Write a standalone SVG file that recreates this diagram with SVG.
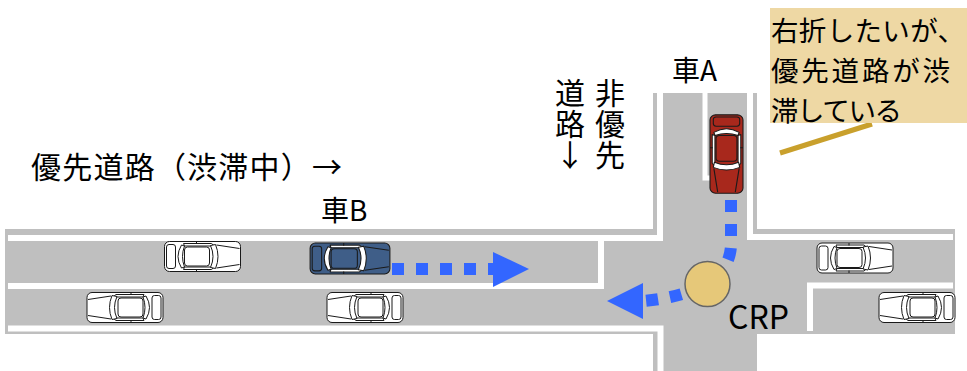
<svg xmlns="http://www.w3.org/2000/svg" xmlns:xlink="http://www.w3.org/1999/xlink" width="967" height="371" viewBox="0 0 967 371">
  <style>
    .road { fill: #bfbfbf; }
    .line { fill: none; stroke: #ffffff; stroke-width: 6; stroke-linejoin: miter; }
    .txt { font-family: "Noto Sans CJK JP", "Noto Sans", sans-serif; fill: #000; }
    .vert { writing-mode: vertical-rl; text-orientation: upright; letter-spacing: 1px; }
    .flow { fill: none; stroke: #3366ff; stroke-width: 12; stroke-dasharray: 12 12; }
    .head { fill: #3366ff; }
  </style>
  <defs>
    <!-- top-view car, facing +x, centred on the origin, 76 x 30 -->
    <g id="car" stroke="#1a1a1a" stroke-width="1" stroke-linejoin="round">
      <rect x="-38" y="-15" width="76" height="30" rx="5"/>
      <rect x="-36" y="-12" width="9" height="24" rx="2.5"/>
      <path fill="#ffffff" d="M-21,-11.5 Q-28,0 -21,11.5 L-18,10.5 Q-22,0 -18,-10.5 Z"/>
      <path fill="#ffffff" d="M-19,-13 L9,-13 L12,-10.5 L-18,-10.5 Z"/>
      <path fill="#ffffff" d="M-19,13 L9,13 L12,10.5 L-18,10.5 Z"/>
      <rect x="-18" y="-9.5" width="25" height="19" rx="3"/>
      <path fill="#ffffff" d="M8,-11 Q13,0 8,11 L13,12 Q18,0 13,-12 Z"/>
      <path fill="none" d="M14,-11.5 L37,-8 M14,11.5 L37,8 M-6,-15 L-6,-12.5 M-6,15 L-6,12.5"/>
    </g>
  </defs>

  <!-- road surface -->
  <g id="road">
    <rect class="road" x="5" y="229" width="950" height="105"/>
    <rect class="road" x="653" y="93" width="104" height="278"/>
    <!-- edge lines -->
    <polyline class="line" points="8,238 660,238 660,93"/>
    <polyline class="line" points="750,93 750,237 953,237"/>
    <polyline class="line" points="8,328.5 660.5,328.5 660.5,371"/>
    <!-- centre lines with stop lines -->
    <polyline class="line" points="8,286 601,286 601,238"/>
    <polyline class="line" points="953,285.5 810,285.5 810,331"/>
    <polyline class="line" style="stroke-width:5" points="705,93 705,178 740,178"/>
  </g>

  <!-- vehicles -->
  <g id="car-b">
    <use xlink:href="#car" href="#car" fill="#3f5e88" transform="translate(350,258.5) scale(1.05,1.03)"/>
  </g>
  <g id="car-a">
    <use xlink:href="#car" href="#car" fill="#a8281c" transform="translate(726.5,154) rotate(90) scale(1.03,1.1)"/>
  </g>
  <g id="car-w1"><use xlink:href="#car" href="#car" fill="#ffffff" transform="translate(202.5,256.5)"/></g>
  <g id="car-w2"><use xlink:href="#car" href="#car" fill="#ffffff" transform="translate(125,307.5) rotate(180)"/></g>
  <g id="car-w3"><use xlink:href="#car" href="#car" fill="#ffffff" transform="translate(365,307.5) rotate(180)"/></g>
  <g id="car-w4"><use xlink:href="#car" href="#car" fill="#ffffff" transform="translate(855,258)"/></g>
  <g id="car-w5"><use xlink:href="#car" href="#car" fill="#ffffff" transform="translate(917,307.5) rotate(180)"/></g>

  <!-- movement paths and callout pointer -->
  <g id="connectors">
    <path class="flow" d="M392,269 L500,269"/>
    <polygon class="head" points="493,252 529,269 493,287"/>
    <path class="flow" d="M731,200 L731,244 C731,275 700,296 643,301"/>
    <polygon class="head" points="643,283 607,301 643,319"/>
    <line x1="780" y1="153" x2="872" y2="124" stroke="#c9a02c" stroke-width="5"/>
  </g>

  <!-- conflict point -->
  <g id="crp">
    <circle cx="707.5" cy="284" r="22.5" fill="#e6c879" stroke="#666666" stroke-width="1.5"/>
    <text class="txt" x="728" y="329" font-size="32">CRP</text>
  </g>

  <!-- labels -->
  <g id="label-main">
    <text class="txt" x="31" y="178" font-size="30" textLength="311" lengthAdjust="spacing">優先道路（渋滞中）→</text>
  </g>
  <g id="label-car-b">
    <text class="txt" x="321" y="221" font-size="28">車B</text>
  </g>
  <g id="label-car-a">
    <text class="txt" x="672" y="81" font-size="28">車A</text>
  </g>
  <g id="label-minor-road">
    <text class="txt vert" x="610" y="78" font-size="30">非優先</text>
    <text class="txt vert" x="570" y="78" font-size="30">道路↓</text>
  </g>

  <!-- callout -->
  <g id="callout">
    <rect x="770" y="8" width="197" height="115" fill="#eed8a4"/>
    <text class="txt" font-size="27.5">
      <tspan x="771" y="41" textLength="194" lengthAdjust="spacing">右折したいが、</tspan>
      <tspan x="771" y="81" textLength="179" lengthAdjust="spacing">優先道路が渋</tspan>
      <tspan x="771" y="121" textLength="131" lengthAdjust="spacing">滞している</tspan>
    </text>
  </g>
</svg>
